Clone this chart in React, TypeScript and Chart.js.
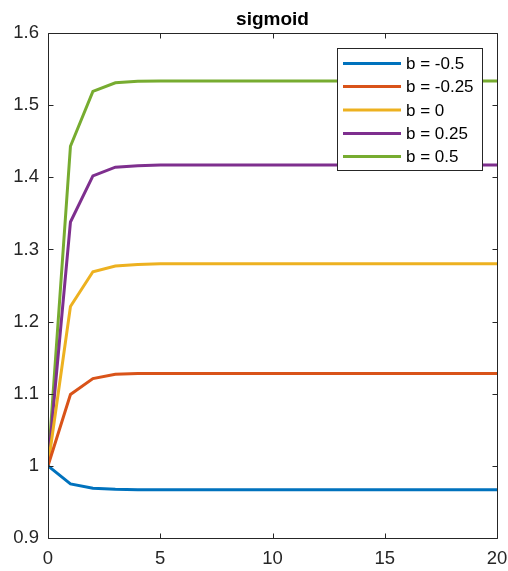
import React, { useEffect, useRef } from "react";
import { Chart, registerables } from "chart.js";

Chart.register(...registerables);

const xValues = [0, 1, 2, 3, 4, 5, 6, 7, 8, 9, 10, 11, 12, 13, 14, 15, 16, 17, 18, 19, 20];
const seriesLabels = ["b = -0.5", "b = -0.25", "b = 0", "b = 0.25", "b = 0.5"];
const seriesColors = ["#0072BD", "#D95319", "#EDB120", "#7E2F8E", "#77AC30"];
const bNeg05 = [1, 0.975, 0.969, 0.9675, 0.967, 0.967, 0.967, 0.967, 0.967, 0.967, 0.967, 0.967, 0.967, 0.967, 0.967, 0.967, 0.967, 0.967, 0.967, 0.967, 0.967];
const bNeg025 = [1, 1.099, 1.121, 1.127, 1.128, 1.128, 1.128, 1.128, 1.128, 1.128, 1.128, 1.128, 1.128, 1.128, 1.128, 1.128, 1.128, 1.128, 1.128, 1.128, 1.128];
const b0 = [1, 1.221, 1.269, 1.277, 1.279, 1.28, 1.28, 1.28, 1.28, 1.28, 1.28, 1.28, 1.28, 1.28, 1.28, 1.28, 1.28, 1.28, 1.28, 1.28, 1.28];
const b025 = [1, 1.338, 1.402, 1.414, 1.416, 1.417, 1.417, 1.417, 1.417, 1.417, 1.417, 1.417, 1.417, 1.417, 1.417, 1.417, 1.417, 1.417, 1.417, 1.417, 1.417];
const b05 = [1, 1.443, 1.519, 1.531, 1.533, 1.5335, 1.5335, 1.5335, 1.5335, 1.5335, 1.5335, 1.5335, 1.5335, 1.5335, 1.5335, 1.5335, 1.5335, 1.5335, 1.5335, 1.5335, 1.5335];
const allSeries = [bNeg05, bNeg025, b0, b025, b05];
const xTicks = [0, 5, 10, 15, 20];
const yTicks = [0.9, 1, 1.1, 1.2, 1.3, 1.4, 1.5, 1.6];
const titleText = "sigmoid";

const FONT = "'Liberation Sans', Arial, Helvetica, sans-serif";
const AXIS_COLOR = "#262626";

const matlabPlugin = {
  id: "matlabAxes",
  afterDatasetsDraw(chart: any) {
    const ctx = chart.ctx;
    const { left, right, top, bottom } = chart.chartArea;
    const xs = chart.scales.x;
    const ys = chart.scales.y;
    ctx.save();
    ctx.strokeStyle = AXIS_COLOR;
    ctx.lineWidth = 1;
    const L = Math.round(left) + 0.5;
    const R = Math.round(right) + 0.5;
    const T = Math.round(top) + 0.5;
    const B = Math.round(bottom) + 0.5;
    ctx.beginPath();
    ctx.rect(L, T, R - L, B - T);
    ctx.stroke();
    const tl = 5;
    ctx.beginPath();
    for (const v of xTicks) {
      const px = Math.round(xs.getPixelForValue(v)) + 0.5;
      ctx.moveTo(px, B);
      ctx.lineTo(px, B - tl);
      ctx.moveTo(px, T);
      ctx.lineTo(px, T + tl);
    }
    for (const v of yTicks) {
      const py = Math.round(ys.getPixelForValue(v)) + 0.5;
      ctx.moveTo(L, py);
      ctx.lineTo(L + tl, py);
      ctx.moveTo(R, py);
      ctx.lineTo(R - tl, py);
    }
    ctx.stroke();

    // legend
    const bx = 337.5, by = 48.5, bw = 145, bh = 122;
    ctx.fillStyle = "#ffffff";
    ctx.fillRect(bx, by, bw, bh);
    ctx.strokeStyle = AXIS_COLOR;
    ctx.lineWidth = 1;
    ctx.strokeRect(bx, by, bw, bh);
    ctx.font = `17px ${FONT}`;
    ctx.textBaseline = "middle";
    ctx.textAlign = "left";
    const rowY = [63.5, 86.5, 110, 133.5, 156.5];
    seriesLabels.forEach((lab, i) => {
      ctx.strokeStyle = seriesColors[i];
      ctx.lineWidth = 3;
      ctx.beginPath();
      ctx.moveTo(343, rowY[i]);
      ctx.lineTo(401, rowY[i]);
      ctx.stroke();
      ctx.fillStyle = "#000000";
      ctx.fillText(lab, 406, rowY[i] + 1);
    });

    // title
    ctx.fillStyle = "#000000";
    ctx.font = `bold 19px ${FONT}`;
    ctx.textAlign = "center";
    ctx.textBaseline = "alphabetic";
    ctx.fillText(titleText, (left + right) / 2, 25);
    ctx.restore();
  },
};

export default function App() {
  const ref = useRef<HTMLCanvasElement | null>(null);
  useEffect(() => {
    document.body.style.margin = "0";
    const canvas = ref.current;
    if (!canvas) return;
    const chart = new Chart(canvas, {
      type: "line",
      data: {
        datasets: allSeries.map((s, i) => ({
          label: seriesLabels[i],
          data: s.map((y, j) => ({ x: xValues[j], y })),
          borderColor: seriesColors[i],
          backgroundColor: seriesColors[i],
          borderWidth: 3,
          pointRadius: 0,
          tension: 0,
          fill: false,
        })),
      },
      options: {
        responsive: false,
        animation: false,
        events: [],
        layout: { padding: { top: 33, right: 11, left: 0, bottom: 0 } },
        plugins: {
          legend: { display: false },
          title: { display: false },
          tooltip: { enabled: false },
        },
        scales: {
          x: {
            type: "linear",
            min: 0,
            max: 20,
            afterFit: (s: any) => { s.height = 33; s.paddingLeft = 0; s.paddingRight = 0; },
            afterBuildTicks: (s: any) => { s.ticks = xTicks.map((v) => ({ value: v })); },
            grid: { display: false, drawTicks: false },
            border: { display: false },
            ticks: {
              padding: 10,
              color: AXIS_COLOR,
              font: { family: FONT, size: 18.5 },
              maxRotation: 0,
              callback: (v: any) => String(Number(Number(v).toFixed(2))),
            },
          },
          y: {
            type: "linear",
            min: 0.9,
            max: 1.6,
            afterFit: (s: any) => { s.width = 48; s.paddingTop = 0; s.paddingBottom = 0; },
            afterBuildTicks: (s: any) => { s.ticks = yTicks.map((v) => ({ value: v })); },
            grid: { display: false, drawTicks: false },
            border: { display: false },
            ticks: {
              padding: 9,
              color: AXIS_COLOR,
              font: { family: FONT, size: 18.5 },
              callback: (v: any) => String(Number(Number(v).toFixed(2))),
            },
          },
        },
      },
      plugins: [matlabPlugin],
    } as any);
    return () => chart.destroy();
  }, []);
  return (
    <div style={{ width: 508, height: 571 }}>
      <canvas ref={ref} width={508} height={571} style={{ display: "block" }} />
    </div>
  );
}
